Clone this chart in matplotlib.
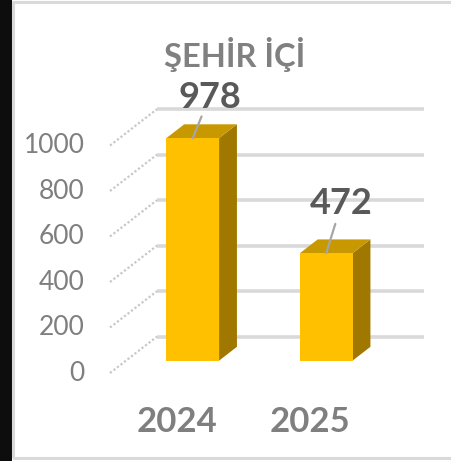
import matplotlib.pyplot as plt
from matplotlib.patches import Polygon, Rectangle

# data
years = ["2024", "2025"]
values = [978, 472]
ticks = [0, 200, 400, 600, 800, 1000]
title = "ŞEHİR İÇİ"

# oblique 3D helpers: depth d in [0, 1] goes from the front of the floor to the back wall
DX = 0.352   # x shift (category units) for the full depth
DY = 160.0   # y shift (value units) for the full depth
D0, D1 = 0.34, 0.72   # front/back of the bars
BAR_W = 0.395


def proj(x, v, d):
    return (x + d * DX, v + d * DY)


plt.rcParams['font.family'] = ['Lato', 'DejaVu Sans']

fig = plt.figure(figsize=(4.52, 4.61), dpi=100)
ax = fig.add_axes([0, 0, 1, 1])
ax.set_xlim(-0.824, 2.562)
ax.set_ylim(-386.8, 1639.6)
ax.axis('off')

# frame of the chart area and dark strip on the left
fig.patches.append(Rectangle((0, 0), 12 / 452, 1, transform=fig.transFigure,
                             facecolor='#0d0d0d', edgecolor='none'))
fig.patches.append(Rectangle((13.5 / 452, 3 / 461), 1.0, 456 / 461, transform=fig.transFigure,
                             facecolor='none', edgecolor='#d9d9d9', linewidth=2.2))

# back wall gridlines and left wall lines
for t in ticks:
    x0, y0 = proj(0, t, 1)
    x1, y1 = proj(2, t, 1)
    ax.plot([x0, x1], [y0, y1], color='#d9d9d9', lw=2.6, solid_capstyle='butt', zorder=1)
    fx, fy = proj(0, t, 0)
    ax.plot([fx, x0], [fy, y0], color='#c8c8c8', lw=1.6, ls=(0, (1, 1)), zorder=1)
    ax.text(fx - 0.19, fy, f"{t}", ha='right', va='center', fontsize=19,
            color='#7f7f7f')

# bars
front_c = '#FFC000'
top_c = '#C79800'
side_c = '#A07800'
for i, v in enumerate(values):
    c = i + 0.5
    xl, xr = c - BAR_W / 2, c + BAR_W / 2
    front = [proj(xl, 0, D0), proj(xr, 0, D0), proj(xr, v, D0), proj(xl, v, D0)]
    side = [proj(xr, 0, D0), proj(xr, 0, D1), proj(xr, v, D1), proj(xr, v, D0)]
    top = [proj(xl, v, D0), proj(xr, v, D0), proj(xr, v, D1), proj(xl, v, D1)]
    ax.add_patch(Polygon(side, closed=True, facecolor=side_c, edgecolor='none', zorder=3))
    ax.add_patch(Polygon(top, closed=True, facecolor=top_c, edgecolor='none', zorder=3))
    ax.add_patch(Polygon(front, closed=True, facecolor=front_c, edgecolor='none', zorder=4))

    # category label at the front of the floor
    lx, ly = proj(c, 0, 0)
    ax.text(lx, ly - 215, years[i], ha='center', va='center', fontsize=25,
            fontweight='bold', color='#7f7f7f')

# value labels with leader lines (offsets in points)
label_offsets = [(12, 29.5), (11, 35.5)]
for i, v in enumerate(values):
    c = i + 0.5
    tx, ty = proj(c, v, D0)
    ax.annotate(f"{v}", xy=(tx, ty), xytext=label_offsets[i], textcoords='offset points',
                ha='center', va='center', fontsize=26, fontweight='bold', color='#595959',
                arrowprops=dict(arrowstyle='-', color='#a6a6a6', lw=1.6,
                                patchA=None, shrinkA=15, shrinkB=0),
                zorder=6)

fig.text(235 / 452, 1 - 55 / 461, title, ha='center', va='center', fontsize=23.5,
         fontweight='bold', color='#808080')

fig.savefig('out.png', dpi=100)
